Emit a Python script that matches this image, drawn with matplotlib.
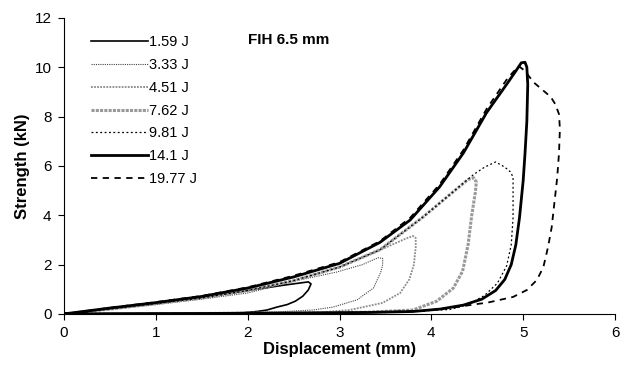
import matplotlib.pyplot as plt

plt.rcParams['font.family'] = ['Liberation Sans', 'DejaVu Sans']

labels = ["1.59 J", "3.33 J", "4.51 J", "7.62 J", "9.81 J", "14.1 J", "19.77 J"]

# hysteresis loops: loading -> peak -> unloading -> back along the baseline
x159 = [0, 0.5, 1.0, 1.5, 2.0, 2.4, 2.6, 2.66, 2.69, 2.66, 2.6, 2.52, 2.43, 2.32, 2.21, 2.10, 1.95, 1.5, 1.0, 0.5, 0]
y159 = [0, 0.22, 0.44, 0.66, 0.95, 1.17, 1.27, 1.30, 1.22, 0.97, 0.72, 0.52, 0.38, 0.28, 0.16, 0.10, 0.05, 0.03, 0.02, 0.01, 0]

x333 = [0, 0.5, 1.0, 1.5, 2.0, 2.57, 2.97, 3.25, 3.42, 3.47, 3.47, 3.45, 3.37, 3.19, 2.93, 2.71, 2.3, 1.5, 0.8, 0]
y333 = [0, 0.18, 0.38, 0.6, 0.85, 1.38, 1.70, 2.0, 2.28, 2.25, 2.0, 1.7, 1.05, 0.57, 0.28, 0.16, 0.08, 0.04, 0.02, 0]

x451 = [0, 0.5, 1.0, 1.5, 2.0, 2.5, 3.0, 3.44, 3.72, 3.80, 3.83, 3.83, 3.81, 3.76, 3.66, 3.47, 3.11, 2.75, 2.0, 1.0, 0]
y451 = [0, 0.2, 0.42, 0.65, 0.95, 1.35, 1.9, 2.59, 3.05, 3.16, 3.08, 2.7, 2.0, 1.4, 0.85, 0.45, 0.16, 0.05, 0.03, 0.02, 0]

x762 = [0, 0.5, 1.0, 1.5, 2.0, 2.5, 3.0, 3.44, 3.91, 4.17, 4.40, 4.46, 4.49, 4.48, 4.44, 4.40, 4.34, 4.24, 4.06, 3.80, 3.3, 2.5, 1.5, 0]
y762 = [0, 0.2, 0.42, 0.65, 0.95, 1.35, 1.9, 2.6, 3.93, 4.74, 5.45, 5.52, 5.35, 4.95, 4.0, 2.8, 1.73, 1.05, 0.52, 0.16, 0.07, 0.04, 0.02, 0]

x981 = [0, 0.5, 1.0, 1.5, 2.0, 2.5, 3.0, 3.44, 3.91, 4.17, 4.46, 4.58, 4.70, 4.80, 4.86, 4.89, 4.89, 4.87, 4.82, 4.72, 4.58, 4.40, 4.2, 3.5, 2.5, 1.2, 0]
y981 = [0, 0.2, 0.42, 0.65, 0.95, 1.35, 1.9, 2.6, 3.93, 4.74, 5.65, 5.95, 6.16, 5.95, 5.76, 5.55, 3.9, 2.8, 1.95, 1.25, 0.75, 0.38, 0.18, 0.06, 0.03, 0.01, 0]

x141 = [0, 0.5, 1.0, 1.5, 2.0, 2.5, 3.0, 3.44, 3.77, 4.09, 4.35, 4.60, 4.83, 4.93, 4.98, 5.02, 5.04, 5.05, 5.04, 5.02, 5.00, 4.96, 4.92, 4.87, 4.80, 4.70, 4.55, 4.35, 4.10, 3.80, 3.3, 2.5, 1.5, 0.5, 0]
y141 = [0, 0.24, 0.46, 0.71, 1.05, 1.5, 2.05, 2.9, 3.81, 5.15, 6.53, 8.15, 9.36, 9.9, 10.18, 10.2, 10.0, 9.3, 7.8, 6.5, 5.4, 3.9, 2.8, 2.0, 1.4, 0.95, 0.6, 0.36, 0.2, 0.1, 0.06, 0.04, 0.02, 0.01, 0]

x1977 = [0, 0.5, 1.0, 1.5, 2.0, 2.5, 3.0, 3.44, 3.77, 4.09, 4.35, 4.60, 4.83, 4.95, 5.02, 5.11, 5.22, 5.30, 5.35, 5.39, 5.40, 5.39, 5.37, 5.34, 5.31, 5.27, 5.22, 5.15, 5.04, 4.89, 4.60, 4.53, 4.24, 3.9, 3.2, 2.3, 1.2, 0]
y1977 = [0, 0.25, 0.48, 0.73, 1.08, 1.55, 2.1, 2.95, 3.9, 5.25, 6.65, 8.3, 9.55, 10.05, 9.85, 9.4, 9.05, 8.8, 8.5, 8.1, 7.5, 6.5, 5.5, 4.5, 3.5, 2.7, 1.9, 1.38, 0.97, 0.69, 0.45, 0.42, 0.26, 0.12, 0.06, 0.03, 0.01, 0]

xs = [x159, x333, x451, x762, x981, x141, x1977]
ys = [y159, y333, y451, y762, y981, y141, y1977]

styles = [
    dict(color="black", lw=1.2, ls="-"),
    dict(color="#444444", lw=0.8, ls=(0, (1, 1))),
    dict(color="#8a8a8a", lw=1.3, ls=(0, (1, 0.7))),
    dict(color="#999999", lw=2.2, ls=(0, (1, 0.4))),
    dict(color="black", lw=0.9, ls=(0, (1.5, 2))),
    dict(color="black", lw=2.0, ls="-"),
    dict(color="black", lw=1.3, ls=(0, (3.5, 3))),
]

fig = plt.figure(figsize=(6.25, 3.72), dpi=100)
ax = fig.add_axes([0.1024, 0.156, 0.8816, 0.796])

for x, y, lab, st in zip(xs, ys, labels, styles):
    ax.plot(x, y, label=lab, **st)

ax.set_xlim(0, 6)
ax.set_ylim(0, 12)
ax.set_xticks(range(0, 7))
ax.set_yticks(range(0, 13, 2))
ax.tick_params(direction="out", length=4, width=0.8, labelsize=11, pad=5)
for s in ["top", "right"]:
    ax.spines[s].set_visible(False)

ax.set_xlabel("Displacement (mm)", fontsize=12, fontweight="bold", labelpad=1)
ax.set_ylabel("Strength (kN)", fontsize=12, fontweight="bold", labelpad=3)
ax.text(2.45, 11.1, "FIH 6.5 mm", fontsize=11, fontweight="bold", ha="center", va="center")

ax.legend(loc="upper left", bbox_to_anchor=(0.03, 0.975), frameon=False, fontsize=10.5,
          handlelength=3.9, handletextpad=0.1, labelspacing=0.6, borderaxespad=0.3)

fig.savefig("out.png", dpi=100)
